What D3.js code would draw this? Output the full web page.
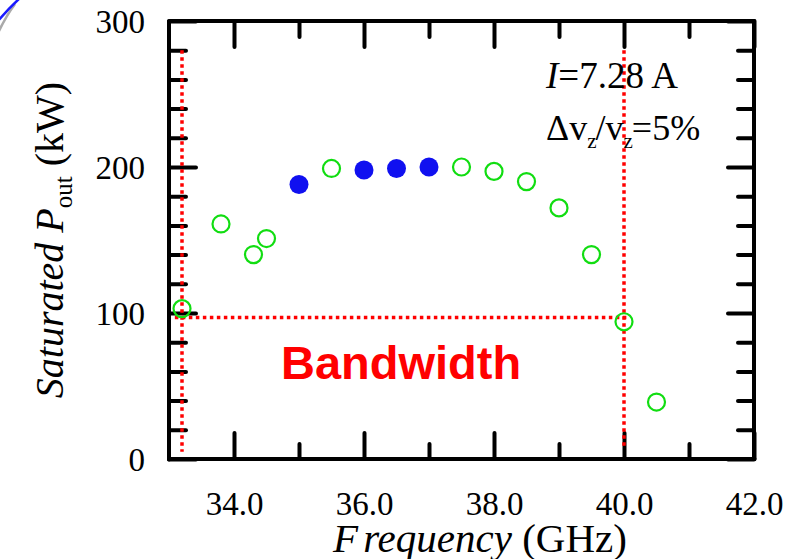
<!DOCTYPE html>
<html>
<head>
<meta charset="utf-8">
<script src="https://cdn.jsdelivr.net/npm/d3@7"></script>
<style>
  body { margin: 0; background: #fff; }
  svg { display: block; }
  .tick line { stroke: #000; stroke-width: 4; stroke-linecap: round; }
  .serif { font-family: "Liberation Serif", "Times New Roman", serif; }
</style>
</head>
<body>
<div id="chart"></div>
<script>
// open circles (green)
const freqOpen  = [33.2, 33.8, 34.3, 34.5, 35.5, 37.5, 38.0, 38.5, 39.0, 39.5, 40.0, 40.5];
const powerOpen = [103, 161, 140, 151, 199, 200, 197, 190, 172, 140, 94, 39];
// filled circles (blue)
const freqFilled  = [35.0, 36.0, 36.5, 37.0];
const powerFilled = [188, 198, 199, 200];

const xMajorTicks = [34, 36, 38, 40, 42];
const xMinorTicks = [35, 37, 39, 41];
const yMajorTicks = [0, 100, 200, 300];
const yMinorTicks = [20, 40, 60, 80, 120, 140, 160, 180, 220, 240, 260, 280];

// bandwidth markers (GHz, kW)
const bandLines = [
  { x1: 33.2,  y1: 280, x2: 33.2,  y2: 5  },
  { x1: 40.0,  y1: 280, x2: 40.0,  y2: 9  },
  { x1: 33.09, y1: 97,  x2: 40.09, y2: 97 }
];

const W = 794, H = 559;
const PLOT = { left: 169, right: 754, top: 21, bottom: 459 };

const x = d3.scaleLinear().domain([33, 42]).range([PLOT.left, PLOT.right]);
const y = d3.scaleLinear().domain([0, 300]).range([PLOT.bottom, PLOT.top]);

const svg = d3.select("#chart").append("svg")
  .attr("width", W).attr("height", H);

// decorative arc in the corner
svg.append("path")
  .attr("d", "M-2,33 Q6,16 15,4")
  .attr("fill", "none").attr("stroke", "#aaa").attr("stroke-width", 2.5);
svg.append("path")
  .attr("d", "M-2,21 Q8,9 20,-2")
  .attr("fill", "none").attr("stroke", "#1a1aff").attr("stroke-width", 2.5);

// ticks (inside)
function ticks(axis, values, size, tx, ty) {
  svg.append("g")
    .attr("transform", `translate(${tx},${ty})`)
    .call(axis.tickValues(values).tickSize(-size).tickFormat(""))
    .call(g => g.select(".domain").remove());
}
ticks(d3.axisBottom(x), xMajorTicks, 26, 0, PLOT.bottom);
ticks(d3.axisBottom(x), xMinorTicks, 15, 0, PLOT.bottom);
ticks(d3.axisTop(x),    xMajorTicks, 26, 0, PLOT.top);
ticks(d3.axisTop(x),    xMinorTicks, 16, 0, PLOT.top);
ticks(d3.axisLeft(y),   yMajorTicks, 27, PLOT.left, 0);
ticks(d3.axisLeft(y),   yMinorTicks, 17, PLOT.left, 0);
ticks(d3.axisRight(y),  yMajorTicks, 26, PLOT.right, 0);
ticks(d3.axisRight(y),  yMinorTicks, 16, PLOT.right, 0);

// frame
svg.append("rect")
  .attr("x", PLOT.left).attr("y", PLOT.top)
  .attr("width", PLOT.right - PLOT.left).attr("height", PLOT.bottom - PLOT.top)
  .attr("fill", "none").attr("stroke", "#000").attr("stroke-width", 4)
  .attr("stroke-linejoin", "round");

// tick labels
const xLab = svg.append("g")
  .attr("transform", `translate(0,${PLOT.bottom})`)
  .call(d3.axisBottom(x).tickValues(xMajorTicks).tickSize(0).tickFormat(d3.format(".1f")));
xLab.select(".domain").remove();
xLab.selectAll("text")
  .attr("class", "serif").attr("y", 56).attr("dy", 0)
  .attr("font-size", 33).attr("fill", "#000");

const yLab = svg.append("g")
  .attr("transform", `translate(${PLOT.left},0)`)
  .call(d3.axisLeft(y).tickValues(yMajorTicks).tickSize(0).tickPadding(24));
yLab.select(".domain").remove();
yLab.selectAll("text")
  .attr("class", "serif").attr("dy", "0.35em")
  .attr("font-size", 33).attr("fill", "#000");

// bandwidth dotted lines
svg.selectAll(".band")
  .data(bandLines)
  .enter().append("line")
  .attr("class", "band")
  .attr("x1", d => x(d.x1)).attr("y1", d => y(d.y1))
  .attr("x2", d => x(d.x2)).attr("y2", d => y(d.y2))
  .attr("stroke", "#ff0000").attr("stroke-width", 3.5)
  .attr("stroke-dasharray", "3.5 3.5");

// points
svg.selectAll(".open")
  .data(freqOpen.map((f, i) => [f, powerOpen[i]]))
  .enter().append("circle")
  .attr("class", "open")
  .attr("cx", d => x(d[0])).attr("cy", d => y(d[1]))
  .attr("r", 8.5)
  .attr("fill", "none").attr("stroke", "#11dd11").attr("stroke-width", 2.2);

svg.selectAll(".filled")
  .data(freqFilled.map((f, i) => [f, powerFilled[i]]))
  .enter().append("circle")
  .attr("class", "filled")
  .attr("cx", d => x(d[0])).attr("cy", d => y(d[1]))
  .attr("r", 9.5)
  .attr("fill", "#1010f0");

// Bandwidth label
svg.append("text")
  .attr("x", x(36.57)).attr("y", y(55))
  .attr("text-anchor", "middle")
  .attr("font-family", "Liberation Sans, Arial, sans-serif")
  .attr("font-weight", "bold").attr("font-size", 47)
  .attr("fill", "#ff0000")
  .text("Bandwidth");

// parameter annotations
const ann1 = svg.append("text").attr("class", "serif")
  .attr("x", x(38.8)).attr("y", y(254)).attr("font-size", 37);
ann1.append("tspan").attr("font-style", "italic").text("I");
ann1.append("tspan").text("=7.28 A");

const ann2 = svg.append("text").attr("class", "serif")
  .attr("x", x(38.8)).attr("y", y(218.5)).attr("font-size", 36);
ann2.append("tspan").text("\u0394v");
ann2.append("tspan").attr("font-size", 21).attr("dy", 8).text("z");
ann2.append("tspan").attr("dy", -8).attr("dx", -1).text("/v");
ann2.append("tspan").attr("font-size", 21).attr("dy", 8).text("z");
ann2.append("tspan").attr("dy", -8).attr("dx", -1).text("=5%");

// axis titles
const xt = svg.append("text").attr("class", "serif")
  .attr("x", 480).attr("y", 552)
  .attr("text-anchor", "middle").attr("font-size", 41);
xt.append("tspan").attr("font-style", "italic").text("F");
xt.append("tspan").attr("font-style", "italic").attr("dx", 5).text("requency");
xt.append("tspan").text(" (GHz)");

const yt = svg.append("text").attr("class", "serif")
  .attr("transform", "translate(63,240) rotate(-90)")
  .attr("text-anchor", "middle").attr("font-size", 40);
yt.append("tspan").attr("font-style", "italic").text("Saturated P");
yt.append("tspan").attr("font-size", 25).attr("dy", 9).text("out");
yt.append("tspan").attr("dy", -9).text(" (kW)");
</script>
</body>
</html>
